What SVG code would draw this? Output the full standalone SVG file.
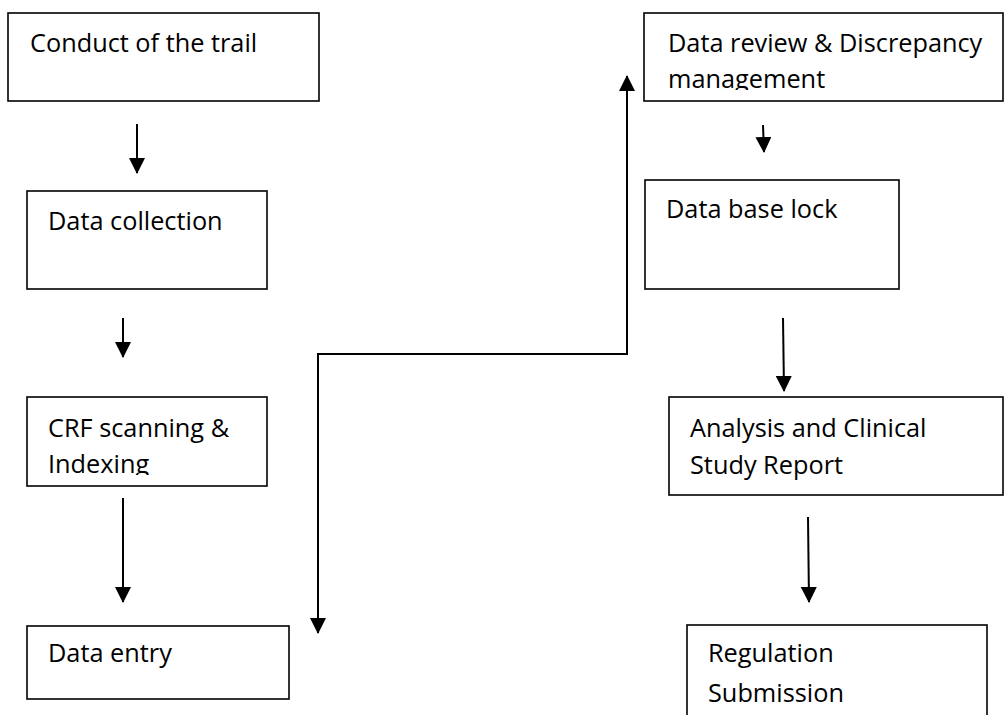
<svg xmlns="http://www.w3.org/2000/svg" width="1004" height="715" viewBox="0 0 1004 715">
<style>
.box{fill:#fff;stroke:#000;stroke-width:1.6}
.t{font-family:"Open Sans","Noto Sans","Liberation Sans",sans-serif;font-size:25.3px;fill:#000}
.c{fill:none;stroke:#000;stroke-width:2}
</style>
<defs>
<marker id="ah" markerUnits="userSpaceOnUse" viewBox="0 0 16 16" refX="15" refY="8" markerWidth="16" markerHeight="16" orient="auto">
<path d="M0,0 L16,8 L0,16 z" fill="#000"/>
</marker>
<clipPath id="clip3"><rect x="0" y="380" width="300" height="95"/></clipPath>
<clipPath id="clip5"><rect x="640" y="0" width="364" height="90"/></clipPath>
</defs>
<rect width="1004" height="715" fill="#fff"/>
<g id="n1"><rect class="box" x="8" y="13" width="311" height="88"/><text class="t" x="30" y="52">Conduct of the trail</text></g>
<g id="n2"><rect class="box" x="27" y="191" width="240" height="98"/><text class="t" x="48" y="230">Data collection</text></g>
<g id="n3"><rect class="box" x="27" y="397" width="240" height="89"/><g clip-path="url(#clip3)"><text class="t" x="48" y="437">CRF scanning &amp;</text><text class="t" x="48" y="473">Indexing</text></g></g>
<g id="n4"><rect class="box" x="27" y="626" width="262" height="73"/><text class="t" x="48" y="662">Data entry</text></g>
<g id="n5"><rect class="box" x="644" y="13" width="359" height="88"/><g clip-path="url(#clip5)"><text class="t" x="668" y="52">Data review &amp; Discrepancy</text><text class="t" x="668" y="88">management</text></g></g>
<g id="n6"><rect class="box" x="645" y="180" width="254" height="109"/><text class="t" x="666" y="218">Data base lock</text></g>
<g id="n7"><rect class="box" x="669" y="397" width="334" height="98"/><text class="t" x="690" y="437">Analysis and Clinical</text><text class="t" x="690" y="474">Study Report</text></g>
<g id="n8"><rect class="box" x="687" y="625" width="300" height="100"/><text class="t" x="708" y="662">Regulation</text><text class="t" x="708" y="702">Submission</text></g>
<g id="connectors">
<line class="c" x1="137" y1="124" x2="137" y2="173" marker-end="url(#ah)"/>
<line class="c" x1="123" y1="318" x2="123" y2="357" marker-end="url(#ah)"/>
<line class="c" x1="123" y1="498" x2="123" y2="602" marker-end="url(#ah)"/>
<polyline class="c" points="318,354 627,354 627,76" marker-end="url(#ah)"/>
<line class="c" x1="318" y1="353" x2="318" y2="633" marker-end="url(#ah)"/>
<line class="c" x1="763" y1="125" x2="764" y2="152" marker-end="url(#ah)"/>
<line class="c" x1="783" y1="318" x2="784" y2="391" marker-end="url(#ah)"/>
<line class="c" x1="808" y1="517" x2="809" y2="602" marker-end="url(#ah)"/>
</g>
</svg>
